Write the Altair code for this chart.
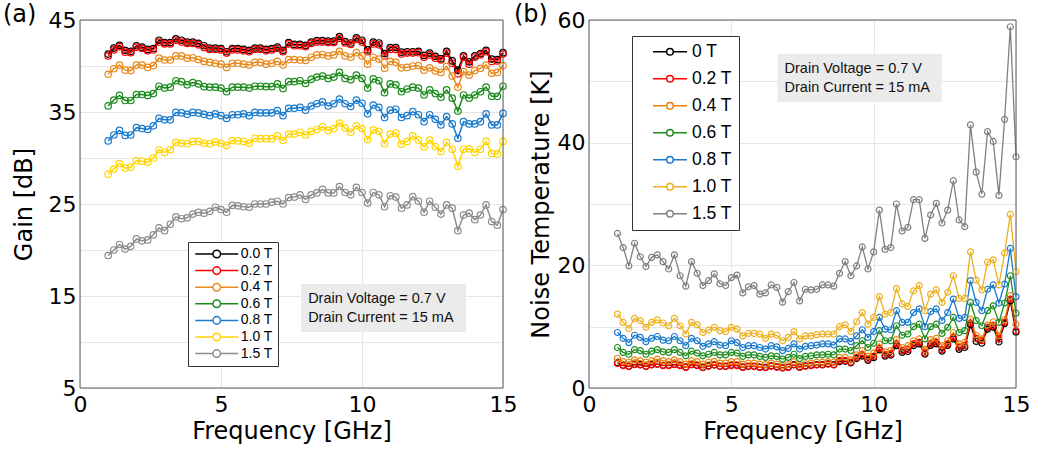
import altair as alt
import pandas as pd

freq = [1.0, 1.2, 1.4, 1.6, 1.8, 2.0, 2.2, 2.4, 2.6, 2.8,
        3.0, 3.2, 3.4, 3.6, 3.8, 4.0, 4.2, 4.4, 4.6, 4.8,
        5.0, 5.2, 5.4, 5.6, 5.8, 6.0, 6.2, 6.4, 6.6, 6.8,
        7.0, 7.2, 7.4, 7.6, 7.8, 8.0, 8.2, 8.4, 8.6, 8.8,
        9.0, 9.2, 9.4, 9.6, 9.8, 10.0, 10.2, 10.4, 10.6, 10.8,
        11.0, 11.2, 11.4, 11.6, 11.8, 12.0, 12.2, 12.4, 12.6, 12.8,
        13.0, 13.2, 13.4, 13.6, 13.8, 14.0, 14.2, 14.4, 14.6, 14.8,
        15.0]

# ---- Panel (a): Gain [dB] ----
gain_labels = ["0.0 T", "0.2 T", "0.4 T", "0.6 T", "0.8 T", "1.0 T", "1.5 T"]
gain_colors = ["#000000", "#FF0000", "#E8891C", "#1A8A1A", "#1A7ACC", "#FFD400", "#8C8C8C"]

gain_00 = [41.3, 41.95, 42.25, 41.7, 41.6, 42.2, 42.05, 41.8, 41.9, 42.8,
           42.55, 42.55, 42.95, 42.8, 42.6, 42.6, 42.45, 42.2, 41.95, 41.95,
           41.9, 41.55, 41.9, 41.9, 41.8, 41.7, 41.95, 41.95, 41.8, 41.9,
           42.05, 41.7, 42.55, 42.35, 42.35, 42.25, 42.6, 42.75, 42.75, 42.7,
           42.7, 43.2, 42.65, 42.5, 43.05, 42.8, 41.75, 42.6, 42.5, 41.35,
           42.0, 42.0, 41.5, 41.55, 41.55, 41.6, 41.15, 41.4, 41.05, 40.8,
           41.6, 40.55, 39.55, 41.1, 40.45, 41.1, 41.35, 41.7, 40.75, 40.7,
           41.45]
gain_02 = [41.1, 41.75, 42.1, 41.5, 41.45, 42.05, 41.9, 41.65, 41.75, 42.6,
           42.4, 42.4, 42.8, 42.6, 42.45, 42.45, 42.3, 42.0, 41.8, 41.8,
           41.75, 41.4, 41.75, 41.75, 41.65, 41.55, 41.8, 41.8, 41.65, 41.75,
           41.9, 41.55, 42.4, 42.2, 42.2, 42.1, 42.45, 42.6, 42.6, 42.55,
           42.55, 43.0, 42.5, 42.35, 42.9, 42.6, 41.55, 42.4, 42.3, 41.1,
           41.8, 41.8, 41.3, 41.4, 41.4, 41.45, 40.95, 41.2, 40.85, 40.65,
           41.4, 40.3, 39.15, 40.95, 40.2, 40.95, 41.2, 41.55, 40.5, 40.55,
           41.3]
gain_04 = [39.1, 39.7, 40.1, 39.55, 39.5, 40.1, 40.1, 39.85, 40.05, 40.85,
           40.65, 40.65, 41.1, 41.1, 40.85, 40.9, 40.7, 40.5, 40.4, 40.3,
           40.2, 39.85, 40.3, 40.3, 40.2, 40.1, 40.4, 40.4, 40.2, 40.3,
           40.5, 40.1, 40.7, 40.7, 40.65, 40.6, 40.95, 41.2, 41.25, 41.1,
           41.2, 41.6, 41.1, 40.95, 41.45, 41.1, 40.2, 40.95, 40.75, 39.75,
           40.5, 40.4, 39.8, 39.85, 40.0, 40.05, 39.55, 39.8, 39.45, 39.3,
           39.95, 38.9, 37.7, 39.4, 39.0, 39.5, 39.75, 40.1, 39.2, 39.3,
           40.05]
gain_06 = [35.66, 36.3, 36.8, 36.25, 36.25, 36.9, 36.9, 36.8, 37.0, 37.8,
           37.6, 37.7, 38.4, 38.3, 37.95, 38.2, 38.05, 37.75, 37.7, 37.7,
           37.6, 37.2, 37.7, 37.7, 37.7, 37.6, 37.8, 37.8, 37.75, 37.75,
           38.05, 37.55, 38.3, 38.3, 38.4, 38.1, 38.55, 38.8, 38.9, 38.65,
           38.8, 39.3, 38.65, 38.5, 39.0, 38.65, 37.6, 38.6, 38.4, 37.1,
           38.05, 37.95, 37.2, 37.5, 37.7, 37.6, 36.85, 37.4, 37.0, 36.6,
           37.4, 36.5, 35.1, 36.85, 36.5, 36.85, 37.2, 37.7, 36.7, 36.7,
           37.8]
gain_08 = [31.86, 32.5, 33.0, 32.45, 32.5, 33.3, 33.2, 33.1, 33.5, 34.3,
           34.15, 34.15, 34.95, 34.9, 34.75, 34.95, 34.9, 34.75, 34.6, 34.8,
           34.6, 34.3, 34.7, 34.7, 34.8, 34.6, 34.95, 34.9, 34.9, 34.9,
           35.15, 34.6, 35.4, 35.4, 35.5, 35.2, 35.65, 35.9, 36.1, 35.65,
           35.9, 36.4, 35.9, 35.6, 36.3, 35.95, 34.8, 35.75, 35.5, 34.4,
           35.2, 35.3, 34.4, 34.6, 35.05, 34.7, 33.95, 34.7, 34.2, 33.6,
           34.5, 33.7, 32.15, 33.95, 33.7, 33.7, 33.95, 34.8, 33.6, 33.6,
           34.85]
gain_10 = [28.24, 28.8, 29.4, 28.9, 29.0, 29.7, 29.65, 29.55, 30.0, 30.9,
           30.6, 30.9, 31.7, 31.6, 31.55, 31.8, 31.8, 31.6, 31.55, 31.75,
           31.6, 31.35, 31.9, 31.85, 31.8, 31.6, 32.15, 32.1, 32.1, 32.1,
           32.4, 31.9, 32.6, 32.6, 32.8, 32.5, 32.9, 33.1, 33.4, 33.0,
           33.2, 33.8, 33.25, 32.8, 33.5, 33.2, 32.0, 33.05, 32.9, 31.55,
           32.6, 32.7, 31.5, 31.8, 32.4, 31.95, 31.2, 31.95, 31.25, 30.7,
           31.7, 30.95, 29.1, 30.95, 31.0, 30.6, 30.95, 31.8, 30.5, 30.45,
           31.8]
gain_15 = [19.4, 20.0, 20.6, 20.1, 20.4, 21.2, 21.0, 21.1, 21.65, 22.4,
           22.1, 22.8, 23.6, 23.4, 23.5, 23.9, 24.1, 24.0, 24.2, 24.65,
           24.4, 24.1, 24.85, 24.8, 24.7, 24.65, 25.0, 25.0, 25.0, 25.2,
           25.3, 25.0, 25.7, 25.75, 26.0, 25.5, 26.0, 26.2, 26.6, 26.2,
           26.2, 26.9, 26.25, 26.0, 26.8, 26.25, 25.1, 26.25, 26.0, 24.7,
           25.9, 25.75, 24.55, 24.9, 25.8, 25.3, 24.1, 25.3, 24.65, 23.9,
           24.9, 24.55, 22.1, 23.8, 24.0, 23.3, 23.8, 24.9, 23.1, 22.7,
           24.4]

# ---- Panel (b): Noise temperature [K] ----
nt_labels = ["0 T", "0.2 T", "0.4 T", "0.6 T", "0.8 T", "1.0 T", "1.5 T"]
nt_colors = ["#000000", "#FF0000", "#E8800E", "#1E8C1E", "#1A7ACC", "#EDB120", "#808080"]

nt_00 = [4.1, 3.7, 3.55, 3.85, 3.8, 3.55, 3.8, 3.9, 3.7, 3.7,
         3.85, 3.7, 3.4, 3.8, 3.7, 3.35, 3.6, 3.75, 3.55, 3.55,
         3.7, 3.7, 3.4, 3.55, 3.55, 3.4, 3.35, 3.6, 3.45, 3.3,
         3.4, 3.8, 3.4, 3.6, 3.7, 3.8, 3.8, 3.95, 3.8, 4.3,
         4.35, 4.1, 4.8, 5.2, 4.5, 4.95, 6.2, 5.2, 5.35, 6.9,
         5.8, 5.95, 6.9, 7.2, 5.5, 6.95, 7.2, 6.0, 6.95, 8.0,
         6.3, 6.6, 10.3, 7.6, 7.3, 9.6, 9.9, 7.5, 10.5, 14.2,
         9.1]
nt_02 = [4.0, 3.65, 3.5, 3.8, 3.75, 3.5, 3.75, 3.9, 3.65, 3.65,
         3.8, 3.65, 3.35, 3.8, 3.65, 3.3, 3.55, 3.75, 3.5, 3.5,
         3.65, 3.65, 3.35, 3.5, 3.5, 3.35, 3.3, 3.55, 3.4, 3.25,
         3.35, 3.75, 3.35, 3.55, 3.65, 3.75, 3.75, 3.9, 3.75, 4.45,
         4.45, 4.2, 5.0, 5.4, 4.7, 5.15, 6.45, 5.4, 5.55, 7.2,
         6.1, 6.25, 7.2, 7.45, 5.7, 7.2, 7.45, 6.25, 7.2, 8.25,
         6.6, 6.9, 10.6, 8.1, 7.7, 9.9, 10.15, 8.0, 10.7, 14.5,
         9.35]
nt_04 = [4.85, 4.3, 4.2, 4.6, 4.45, 4.2, 4.45, 4.7, 4.45, 4.3,
         4.6, 4.3, 3.9, 4.45, 4.3, 3.9, 4.2, 4.35, 4.05, 4.05,
         4.3, 4.3, 3.9, 4.05, 4.05, 3.9, 3.8, 4.05, 3.9, 3.65,
         3.8, 4.3, 3.75, 3.95, 4.05, 4.2, 4.2, 4.3, 4.2, 5.0,
         5.0, 4.6, 5.4, 6.1, 5.15, 5.7, 7.2, 5.9, 6.1, 7.9,
         6.6, 6.9, 7.7, 8.0, 6.25, 7.9, 8.1, 6.9, 7.7, 9.05,
         7.2, 7.45, 11.25, 8.6, 8.0, 10.25, 10.8, 8.5, 11.1, 15.05,
         10.4]
nt_06 = [6.6, 5.8, 5.5, 6.25, 6.1, 5.5, 6.0, 6.25, 5.9, 5.8,
         6.25, 5.8, 5.25, 6.0, 5.7, 5.25, 5.5, 5.8, 5.4, 5.4,
         5.8, 5.7, 5.15, 5.4, 5.4, 5.15, 5.0, 5.25, 5.15, 4.7,
         5.0, 5.5, 4.8, 5.15, 5.25, 5.4, 5.4, 5.5, 5.4, 6.35,
         6.35, 6.1, 6.9, 7.7, 6.6, 7.3, 9.35, 7.7, 7.7, 10.15,
         8.6, 8.8, 10.0, 10.4, 8.0, 10.0, 10.4, 8.9, 9.9, 11.5,
         9.05, 9.35, 13.95, 11.0, 10.15, 12.6, 13.4, 10.7, 13.85, 18.3,
         12.2]
nt_08 = [9.05, 8.1, 7.4, 8.6, 8.25, 7.55, 8.1, 8.4, 7.8, 7.7,
         8.4, 7.7, 6.9, 8.1, 7.7, 6.8, 7.2, 7.55, 7.0, 6.9,
         7.7, 7.4, 6.6, 6.9, 6.9, 6.6, 6.35, 6.9, 6.7, 6.1,
         6.45, 7.2, 6.35, 6.8, 6.9, 7.0, 7.2, 7.2, 7.0, 8.0,
         8.0, 7.55, 8.5, 9.5, 8.25, 9.2, 11.5, 9.6, 9.5, 12.6,
         10.7, 10.7, 12.3, 12.9, 10.0, 12.45, 12.9, 11.0, 12.3, 14.5,
         11.35, 11.5, 17.5, 13.95, 12.6, 16.1, 16.8, 13.85, 16.95, 22.75,
         14.9]
nt_10 = [12.05, 10.7, 9.7, 11.35, 11.0, 9.9, 10.7, 11.1, 10.6, 10.15,
         11.35, 10.15, 8.8, 10.7, 10.3, 9.05, 9.45, 9.9, 9.35, 9.2,
         9.9, 9.6, 8.5, 8.9, 8.9, 8.8, 8.1, 8.8, 8.6, 7.7,
         8.25, 9.2, 8.0, 8.5, 8.5, 8.7, 8.8, 8.8, 8.8, 10.0,
         10.3, 9.2, 10.8, 12.3, 10.4, 11.5, 14.9, 12.05, 12.3, 16.2,
         13.7, 13.3, 15.85, 16.7, 12.6, 15.3, 16.0, 13.95, 15.6, 18.3,
         14.6, 14.6, 22.2, 17.6, 16.0, 20.5, 20.9, 16.8, 22.0, 28.3,
         19.0]
nt_15 = [25.2, 22.9, 19.9, 23.6, 21.4, 19.8, 21.3, 21.7, 20.6, 19.4,
         21.7, 18.3, 16.6, 20.6, 18.7, 16.7, 17.5, 18.6, 17.0, 16.7,
         18.0, 18.4, 15.5, 16.5, 16.7, 15.3, 15.5, 16.8, 16.4, 14.0,
         15.7, 17.2, 14.2, 16.1, 16.0, 16.1, 16.8, 16.8, 16.6, 18.7,
         20.6, 18.3, 19.9, 23.0, 19.4, 22.2, 29.0, 22.6, 22.9, 30.0,
         25.6, 26.2, 30.7, 30.7, 24.4, 28.2, 30.1, 26.9, 29.0, 33.8,
         27.4, 26.3, 42.9, 35.2, 31.6, 41.8, 40.2, 31.4, 43.8, 58.9,
         37.7]

gain_series = [gain_00, gain_02, gain_04, gain_06, gain_08, gain_10, gain_15]
nt_series = [nt_00, nt_02, nt_04, nt_06, nt_08, nt_10, nt_15]
for s in gain_series + nt_series:
    assert len(s) == len(freq), len(s)

note_lines = ["Drain Voltage = 0.7 V", "Drain Current = 15 mA"]


def long_frame(labels, series):
    rows = []
    for k, (lab, vals) in enumerate(zip(labels, series)):
        for f, v in zip(freq, vals):
            rows.append({"f": f, "v": v, "s": lab, "k": k})
    return pd.DataFrame(rows)


FONT = "DejaVu Sans"
LFONT = "Liberation Sans"

SYM_SIZE = 64          # symbol "size" -> unit scale of sqrt(64)/2 = 4 px
SYM_SCALE = 4.0


def legend_path(half_len_px, radius_px):
    a = round(half_len_px / SYM_SCALE, 3)
    r = round(radius_px / SYM_SCALE, 3)
    return (f"M{-a},0L{-r},0M{r},0L{a},0"
            f"M{r},0A{r},{r},0,1,1,{-r},0A{r},{r},0,1,1,{r},0")


def panel(df, labels, colors, xdom, ydom, yvals, ylabel_expr, ytitle, w, h,
          legend, note_box, note_text, tag, tag_x, ytitle_pad, msize, lw):
    x = alt.X("f:Q", scale=alt.Scale(domain=xdom, nice=False, zero=False),
              axis=alt.Axis(values=[0, 5, 10, 15], title="Frequency [GHz]",
                            labelPadding=6, titlePadding=4, ticks=False, domain=False,
                            labelFlush=False))
    y = alt.Y("v:Q", scale=alt.Scale(domain=ydom, nice=False, zero=False),
              axis=alt.Axis(values=yvals, labelExpr=ylabel_expr, title=ytitle,
                            labelPadding=4, titlePadding=ytitle_pad, ticks=False,
                            domain=False))
    cscale = alt.Scale(domain=labels, range=colors)
    color = alt.Color("s:N", scale=cscale, legend=legend, sort=labels)
    base = alt.Chart(df)
    lines = base.mark_line(strokeWidth=lw).encode(
        x=x, y=y, color=color, detail="s:N", order="f:Q")
    pts = base.mark_point(shape="circle", filled=False, size=msize, strokeWidth=1.2,
                          opacity=1).encode(
        x=x, y=y, color=color, order=alt.Order("k:Q"))
    bx0, bx1, by0, by1 = note_box
    box = alt.Chart().mark_rect(color="#EBEBEB").encode(
        x=alt.datum(bx0), x2=alt.datum(bx1), y=alt.datum(by0), y2=alt.datum(by1))
    tx, ty0, ty1 = note_text
    note_df = pd.DataFrame({"t": note_lines, "x": [tx, tx], "y": [ty0, ty1]})
    notes = alt.Chart(note_df).mark_text(align="left", baseline="middle", font=LFONT,
                                         fontSize=14.5, color="#111").encode(
        x="x:Q", y="y:Q", text="t:N")
    frame = alt.Chart().mark_rect(fill=None, stroke="#5a5a5a", strokeWidth=1).encode(
        x=alt.datum(xdom[0]), x2=alt.datum(xdom[1]), y=alt.datum(ydom[0]),
        y2=alt.datum(ydom[1]))
    tagc = alt.Chart().mark_text(align="left", baseline="middle", font=FONT,
                                 fontSize=24, color="black").encode(
        x=alt.value(tag_x), y=alt.value(-5), text=alt.value(tag))
    return alt.layer(lines, pts, box, notes, frame, tagc).properties(width=w, height=h)


leg_a = alt.Legend(title=None, orient="none", legendX=108, legendY=222,
                   direction="vertical", symbolType=legend_path(21.5, 3.8),
                   symbolSize=SYM_SIZE, symbolStrokeWidth=1.5,
                   symbolFillColor="transparent",
                   labelFont=LFONT, labelFontSize=14, labelColor="black",
                   rowPadding=2.6, padding=5, symbolOffset=16.75, labelOffset=17,
                   strokeColor="#333333", fillColor="white")
leg_b = alt.Legend(title=None, orient="none", legendX=43, legendY=16,
                   direction="vertical", symbolType=legend_path(17, 3.3),
                   symbolSize=SYM_SIZE, symbolStrokeWidth=1.5,
                   symbolFillColor="transparent",
                   labelFont=LFONT, labelFontSize=17.5, labelColor="black",
                   labelExpr="datum.label + '\u2002'",
                   rowPadding=8, padding=7, symbolOffset=22.25, labelOffset=13.25,
                   strokeColor="#333333", fillColor="white")

chart_a = panel(long_frame(gain_labels, gain_series), gain_labels, gain_colors,
                [0, 15], [5, 45], [5, 10, 15, 20, 25, 30, 35, 40, 45],
                "datum.value % 10 == 5 ? datum.label : ''", "Gain [dB]", 423, 368,
                leg_a, (7.84, 13.69, 16.3, 11.09), (8.09, 14.67, 12.61),
                "(a)", -77, 12, 42, 1.5)
chart_b = panel(long_frame(nt_labels, nt_series), nt_labels, nt_colors,
                [0, 15], [0, 60], [0, 10, 20, 30, 40, 50, 60],
                "datum.value % 20 == 0 ? datum.label : ''", "Noise Temperature [K]",
                427, 368, leg_b, (6.62, 12.39, 54.46, 46.63), (6.87, 52.01, 48.91),
                "(b)", -75, 4, 36, 1.3)

chart = alt.hconcat(chart_a, chart_b, spacing=86, bounds="flush").resolve_scale(
    color="independent", x="independent", y="independent"
).resolve_legend(color="independent").properties(
    padding={"left": 3, "top": 3, "right": 5, "bottom": 5},
    background="white",
).configure_view(stroke=None).configure_axis(
    labelFont=FONT, labelFontSize=22, labelColor="black",
    titleFont=FONT, titleFontSize=24, titleFontWeight="normal", titleColor="black",
    gridColor="#E6E6E6", gridWidth=1,
)

chart.save("out.html", embed_options={"renderer": "svg", "actions": False})
